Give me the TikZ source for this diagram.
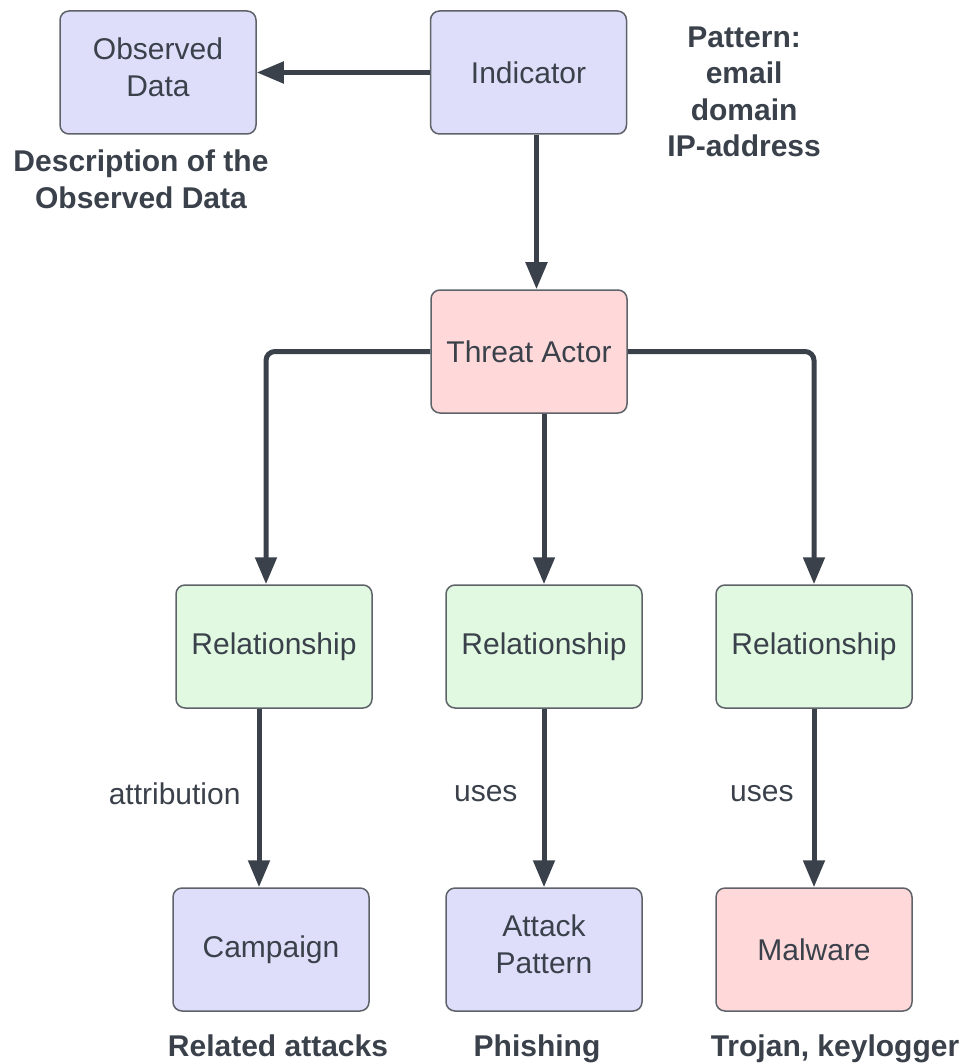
\documentclass[tikz,border=0pt]{standalone}
\usepackage{fontspec}
\setmainfont{Liberation Sans}
\usetikzlibrary{
  arrows.meta,
  positioning
}
\definecolor{inkgray}{HTML}{3A414B}
\definecolor{edgegray}{HTML}{5E6269}
\definecolor{objblue}{HTML}{DEDEFA}
\definecolor{objred}{HTML}{FFD9D9}
\definecolor{objgreen}{HTML}{E1F9E1}
\tikzset{
  entity/.style={
    draw=edgegray,
    line width=1.5pt,
    rounded corners=9pt,
    minimum width=196pt,
    minimum height=123pt,
    text=inkgray,
    align=center,
    inner sep=0pt,
    font=\fontsize{30}{37}\selectfont
  },
  bluebox/.style={entity, fill=objblue},
  redbox/.style={entity, fill=objred},
  greenbox/.style={entity, fill=objgreen},
  twoline/.style={text depth=10pt},
  link/.style={
    draw=inkgray,
    line width=5pt,
    rounded corners=9pt,
    -{Triangle[width=21pt,length=27pt]}
  },
  note/.style={
    text=inkgray,
    align=center,
    inner sep=0pt,
    font=\bfseries\fontsize{30}{36.5}\selectfont
  },
  linklabel/.style={
    text=inkgray,
    inner sep=0pt,
    yshift=4pt,
    font=\fontsize{30}{36}\selectfont
  }
}

\begin{document}
\begin{tikzpicture}[x=1pt, y=-1pt]
  \useasboundingbox (0,0) rectangle (967,1064);
  % objects
  \node[bluebox, twoline] (obs) at (158,72.5) {Observed\\Data};
  \node[bluebox] (ind) at (528.5,72.5) {Indicator};
  \node[redbox] (actor) at (529,351.5) {Threat Actor};
  \node[greenbox] (rel1) at (274,646.5) {Relationship};
  \node[greenbox] (rel2) at (544,646.5) {Relationship};
  \node[greenbox] (rel3) at (814,646.5) {Relationship};
  \node[bluebox] (camp) at (271,949.5) {Campaign};
  \node[bluebox, twoline] (attpat) at (544,949.5) {Attack\\Pattern};
  \node[redbox] (malw) at (814,949.5) {Malware};
  % notes
  \node[note, below=15pt of obs, xshift=-17pt] (obsnote) {Description of the\\Observed Data};
  \node[note, anchor=north west] (patnote) at ([xshift=40pt,yshift=-16pt]ind.north east) {Pattern:\\email\\domain\\IP-address};
  \node[note, below=23pt of camp, xshift=7pt] (campnote) {Related attacks};
  \node[note, below=23pt of attpat, xshift=-7pt] (phishnote) {Phishing};
  \node[note, below=23pt of malw, xshift=21pt] (malwnote) {Trojan, keylogger};
  % links
  \coordinate (indout) at ([xshift=8pt]ind.south);
  \coordinate (rel1in) at ([xshift=-8pt]rel1.north);
  \coordinate (campin) at ([xshift=-12pt]camp.north);
  \draw[link] (ind.west) -- (obs.east);
  \draw[link] (indout) -- (indout |- actor.north);
  \draw[link] (actor.west) -| (rel1in);
  \draw[link] (rel2.north |- actor.south) -- (rel2.north);
  \draw[link] (actor.east) -| (rel3.north);
  \draw[link] (campin |- rel1.south) -- node[linklabel, left=16pt] (attrlbl) {attribution} (campin);
  \draw[link] (attpat.north |- rel2.south) -- node[linklabel, left=24pt] (useslbl) {uses} (attpat.north);
  \draw[link] (malw.north |- rel3.south) -- node[linklabel, left=18pt] (usesmlbl) {uses} (malw.north);
\end{tikzpicture}
\end{document}
